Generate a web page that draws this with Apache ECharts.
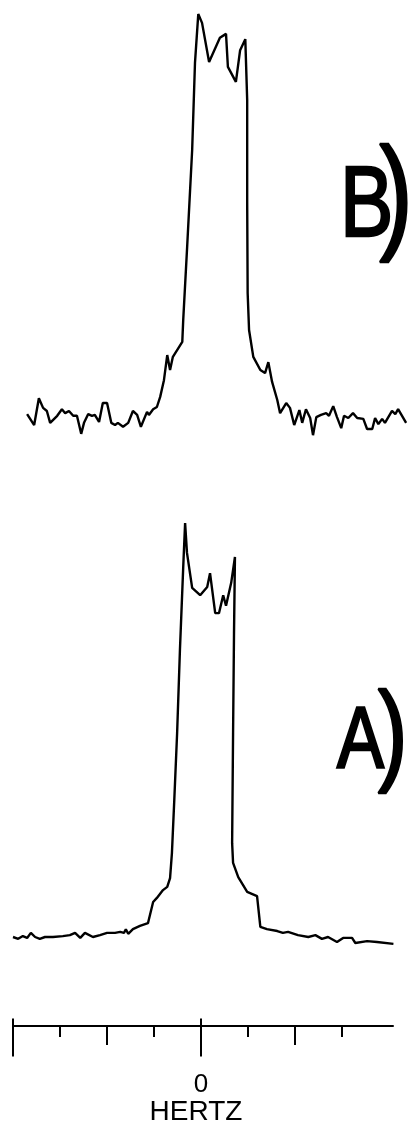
<!DOCTYPE html>
<html>
<head>
<meta charset="utf-8">
<script src="https://cdn.jsdelivr.net/npm/echarts@6/dist/echarts.min.js"></script>
<style>
html,body{margin:0;padding:0;background:#fff;}
#c{width:408px;height:1121px;}
</style>
</head>
<body>
<div id="c"></div>
<script>
// Frequency axis (tick units, 0 = centre)
var tickShort = [-3, -1, 1, 3];
var tickMedium = [-2, 2];
var tickLong = [-4, 0];
var tickLabels = [0];

// Spectrum B (top)
var bFreq = [-3.70,-3.55,-3.45,-3.36,-3.28,-3.21,-3.06,-2.96,-2.89,-2.81,-2.72,-2.64,-2.55,-2.49,-2.40,-2.32,-2.26,-2.17,-2.09,-2.00,-1.91,-1.83,-1.77,-1.66,-1.55,-1.45,-1.36,-1.28,-1.15,-1.11,-1.02,-0.94,-0.87,-0.79,-0.72,-0.66,-0.60,-0.40,-0.38,-0.30,-0.19,-0.13,-0.06,0.02,0.17,0.40,0.53,0.57,0.74,0.83,0.94,0.98,0.98,0.99,1.02,1.11,1.26,1.36,1.43,1.51,1.62,1.68,1.81,1.89,1.98,2.09,2.15,2.23,2.32,2.38,2.45,2.55,2.66,2.72,2.81,2.89,2.98,3.04,3.13,3.23,3.32,3.45,3.53,3.64,3.70,3.77,3.85,3.91,4.06,4.13,4.19,4.36];
var bIntensity = [5.9,3.4,9.5,7.3,6.6,3.9,5.5,7.0,6.1,6.6,5.5,5.5,1.4,3.9,5.9,5.5,5.7,4.1,8.4,8.4,3.9,3.4,3.9,3.0,3.9,6.6,5.7,3.0,6.4,5.7,7.0,7.5,9.8,13.6,19.3,15.9,18.9,22.3,27.3,43.2,65.9,85.7,96.8,94.8,85.9,91.4,92.3,84.8,81.4,88.6,91.1,77.3,54.5,33.4,25.0,18.9,15.9,15.2,17.7,13.2,9.1,6.1,8.4,7.3,3.4,6.8,3.9,7.0,5.0,1.1,5.2,5.7,6.1,5.5,7.7,5.2,2.7,5.5,5.0,6.1,5.0,4.8,2.5,2.5,5.0,3.6,4.8,3.9,6.6,5.9,7.0,3.9];

// Spectrum A (bottom)
var aFreq = [-4.00,-3.89,-3.79,-3.70,-3.62,-3.53,-3.43,-3.32,-3.15,-2.94,-2.79,-2.68,-2.57,-2.47,-2.30,-2.15,-2.00,-1.83,-1.72,-1.64,-1.60,-1.55,-1.45,-1.30,-1.13,-1.02,-0.94,-0.81,-0.72,-0.66,-0.62,-0.57,-0.51,-0.45,-0.38,-0.34,-0.30,-0.19,-0.02,0.13,0.19,0.30,0.38,0.47,0.53,0.64,0.72,0.70,0.68,0.66,0.68,0.79,0.98,1.19,1.26,1.40,1.62,1.74,1.85,2.06,2.28,2.43,2.57,2.70,2.89,3.02,3.21,3.28,3.53,3.74,4.09];
var aIntensity = [5.0,4.6,5.2,4.8,5.9,5.0,4.6,5.0,5.0,5.2,5.4,5.9,4.8,5.9,5.0,5.4,5.9,5.9,6.1,5.9,6.7,5.7,6.7,7.4,8.0,12.6,13.5,15.2,15.9,17.8,23.3,34.8,49.3,67.4,85.4,95.0,88.5,80.9,79.3,81.1,84.1,75.4,75.4,79.3,77.0,82.0,87.6,71.1,49.3,25.4,21.1,18.0,14.8,13.9,7.2,6.7,6.3,5.9,6.1,5.4,5.0,5.4,4.6,5.0,3.9,4.8,4.8,3.7,4.1,3.9,3.5];

function zip(xs, ys){ return xs.map(function(x,i){ return [x, ys[i]]; }); }

var chart = echarts.init(document.getElementById('c'), null, {renderer:'canvas'});
var ink = '#000';

function tickAxis(grid, values, len, showLine, extra){
  var ax = {
    type:'value', gridIndex:grid, min:-4, max:4.085, position:'bottom',
    axisLine:{show:showLine, lineStyle:{color:ink, width:2}},
    axisTick:{show:true, customValues:values, length:len, lineStyle:{color:ink, width:2}},
    axisLabel:{show:false},
    splitLine:{show:false}
  };
  if (extra) Object.assign(ax, extra);
  return ax;
}

function letterStyle(size, extra){
  return Object.assign({fontSize:size, fontFamily:'Liberation Sans', fill:ink, verticalAlign:'middle',
          stroke:ink, lineWidth:2.5}, extra || {});
}

var option = {
  backgroundColor:'#fff',
  animation:false,
  grid:[
    {left:13, right:0, top:0, height:440},
    {left:13, right:0, top:500, height:460},
    {left:13, width:380, top:1016, height:10},
    {left:13, width:380, top:1016, height:10},
    {left:13, width:380, top:1016, height:10}
  ],
  xAxis:[
    {type:'value', gridIndex:0, min:-4, max:4.4, show:false},
    {type:'value', gridIndex:1, min:-4, max:4.4, show:false},
    tickAxis(2, tickShort, 11, true),
    tickAxis(3, tickMedium, 19, false),
    tickAxis(4, tickLong, 38, false, {
      axisLabel:{show:true, customValues:tickLabels, margin:53, color:ink, fontSize:26, fontFamily:'Liberation Sans'},
      name:'HERTZ', nameLocation:'middle', nameGap:75,
      nameTextStyle:{color:ink, fontSize:28, fontFamily:'Liberation Sans', padding:[0,14,0,0]}
    })
  ],
  yAxis:[
    {type:'value', gridIndex:0, min:0, max:100, show:false},
    {type:'value', gridIndex:1, min:0, max:100, show:false},
    {type:'value', gridIndex:2, show:false},
    {type:'value', gridIndex:3, show:false},
    {type:'value', gridIndex:4, show:false}
  ],
  series:[
    {type:'line', xAxisIndex:0, yAxisIndex:0, data:zip(bFreq,bIntensity), showSymbol:false, symbol:'none',
     lineStyle:{color:ink, width:2.4}, silent:true},
    {type:'line', xAxisIndex:1, yAxisIndex:1, data:zip(aFreq,aIntensity), showSymbol:false, symbol:'none',
     lineStyle:{color:ink, width:2.4}, silent:true}
  ],
  graphic:[
    {type:'text', x:340, y:201, scaleX:0.8, scaleY:1, silent:true,
     style:{text:'{l|B}{p|)}', align:'left', verticalAlign:'middle', fill:ink,
       rich:{l:letterStyle(100, {width:49, padding:[14,0,0,0]}), p:letterStyle(126)}}},
    {type:'text', x:337, y:739, scaleX:0.8, scaleY:1, silent:true,
     style:{text:'{l|A}{p|)}', align:'left', verticalAlign:'middle', fill:ink,
       rich:{l:letterStyle(88, {width:51, padding:[10,0,0,0]}), p:letterStyle(112)}}}
  ]
};
chart.setOption(option);
</script>
</body>
</html>
